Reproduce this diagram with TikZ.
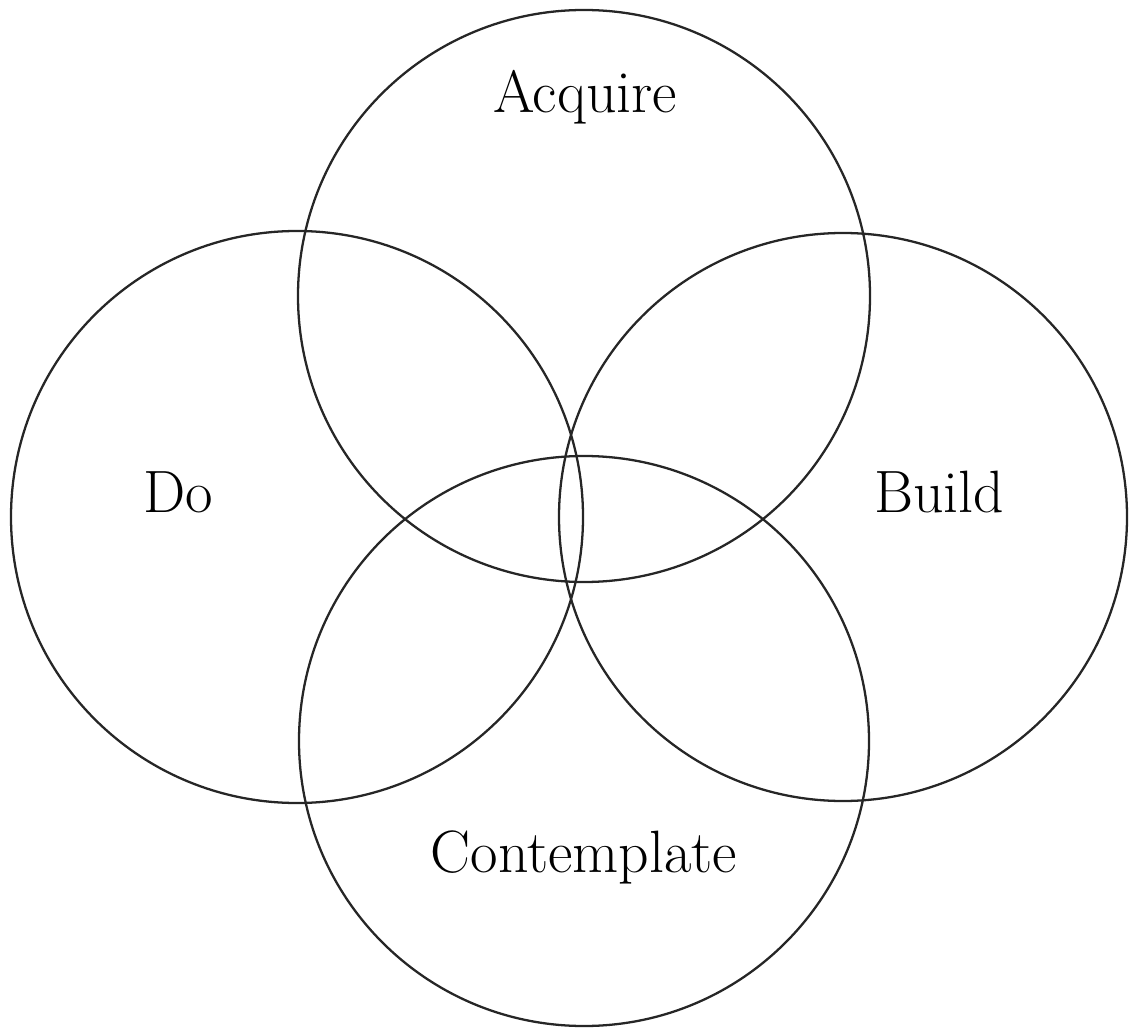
\documentclass[tikz,border=0pt]{standalone}
\usepackage{tikz}
\usetikzlibrary{positioning}
\tikzset{
  setcirc/.style={line width=1.3pt,black!85},
  setlbl/.style={font=\fontsize{34}{40}\selectfont,anchor=base,inner sep=0pt},
}
\begin{document}
\begin{tikzpicture}
  % canvas fixed to the reference proportions (50px per cm)
  \useasboundingbox (0,0) rectangle (22.58,20.6);
  % four overlapping circles of equal radius
  \coordinate (acq) at (11.68,14.68);
  \coordinate (do) at (5.94,10.26);
  \coordinate (bld) at (16.86,10.26);
  \coordinate (cnt) at (11.68,5.78);
  \draw[setcirc] (acq) circle (5.72);
  \draw[setcirc] (do) circle (5.72);
  \draw[setcirc] (bld) circle (5.68);
  \draw[setcirc] (cnt) circle (5.7);
  % labels
  \node[setlbl] (acqlbl) at (11.70,18.34) {Acquire};
  \node[setlbl] (dolbl) at (3.56,10.36) {Do};
  \node[setlbl] (bldlbl) at (18.78,10.36) {Build};
  \node[setlbl] (cntlbl) at (11.68,3.16) {Contemplate};
\end{tikzpicture}
\end{document}
